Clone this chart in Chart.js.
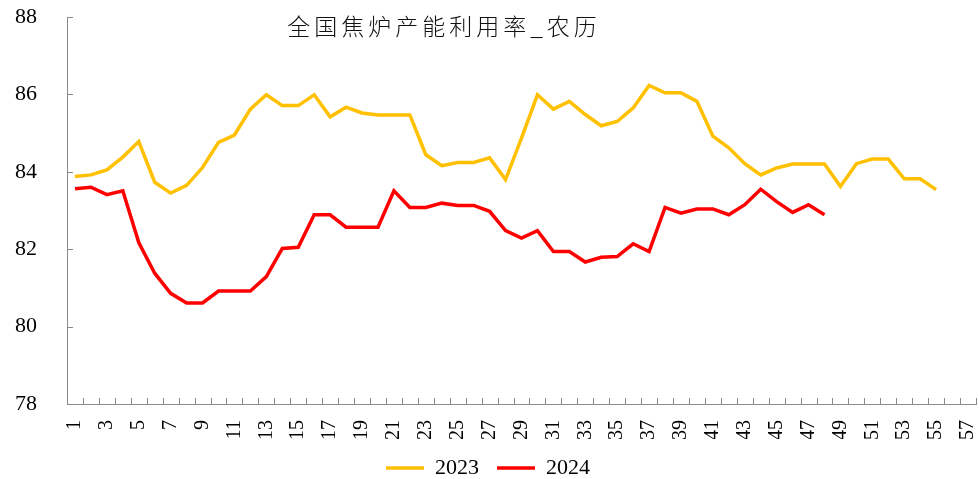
<!DOCTYPE html>
<html>
<head>
<meta charset="utf-8">
<style>
  html, body { margin: 0; padding: 0; background: #fff; }
  #wrap { width: 979px; height: 479px; position: relative; }
</style>
<script src="https://cdn.jsdelivr.net/npm/chart.js@4"></script>
</head>
<body>
<div id="wrap"><canvas id="chart" width="979" height="479"></canvas></div>
<script>
(function () {
  'use strict';

  var TITLE = '全国焦炉产能利用率_农历';

  // lunar-calendar week numbers
  var weeks = [
    '1', '2', '3', '4', '5', '6', '7', '8', '9', '10',
    '11', '12', '13', '14', '15', '16', '17', '18', '19', '20',
    '21', '22', '23', '24', '25', '26', '27', '28', '29', '30',
    '31', '32', '33', '34', '35', '36', '37', '38', '39', '40',
    '41', '42', '43', '44', '45', '46', '47', '48', '49', '50',
    '51', '52', '53', '54', '55', '56', '57'
  ];

  var util2023 = [
    83.88, 83.92, 84.05, 84.38, 84.78, 83.73, 83.45, 83.65, 84.11, 84.76,
    84.95, 85.62, 85.99, 85.71, 85.71, 85.99, 85.42, 85.67, 85.52, 85.47,
    85.47, 85.47, 84.44, 84.16, 84.24, 84.24, 84.36, 83.80, 84.87, 85.99,
    85.62, 85.82, 85.48, 85.19, 85.30, 85.65, 86.23, 86.04, 86.04, 85.82,
    84.92, 84.62, 84.21, 83.92, 84.10, 84.20, 84.20, 84.20, 83.62, 84.21,
    84.33, 84.33, 83.82, 83.82, 83.54
  ];

  var util2024 = [
    83.56, 83.60, 83.41, 83.51, 82.17, 81.38, 80.86, 80.61, 80.61, 80.92,
    80.92, 80.92, 81.29, 82.02, 82.05, 82.89, 82.89, 82.57, 82.57, 82.57,
    83.51, 83.08, 83.08, 83.19, 83.13, 83.13, 82.98, 82.48, 82.29, 82.48,
    81.94, 81.94, 81.67, 81.79, 81.81, 82.14, 81.94, 83.08, 82.93, 83.04,
    83.04, 82.89, 83.15, 83.55, 83.23, 82.95, 83.15, 82.89
  ];

  var yMin = 78, yMax = 88, yStep = 2;

  var AXIS = '#898989';
  var SERIF = '"Liberation Serif", "Times New Roman", serif';

  // Excel style: short tick marks pointing into the plot area
  var innerTicks = {
    id: 'innerTicks',
    afterDraw: function (chart) {
      var ctx = chart.ctx;
      var a = chart.chartArea;
      var n = weeks.length;
      var step = (a.right - a.left) / n;
      ctx.save();
      ctx.strokeStyle = AXIS;
      ctx.lineWidth = 1;
      ctx.beginPath();
      for (var i = 0; i <= n; i++) {
        var x = Math.round(a.left + i * step) + 0.5;
        ctx.moveTo(x, a.bottom);
        ctx.lineTo(x, a.bottom - 6);
      }
      var ys = chart.scales.y;
      ys.ticks.forEach(function (t) {
        var y = Math.round(ys.getPixelForValue(t.value)) + 0.5;
        ctx.moveTo(a.left, y);
        ctx.lineTo(a.left + 6, y);
      });
      ctx.stroke();
      ctx.restore();
    }
  };

  // title sits inside the plot area
  var overlayTitle = {
    id: 'overlayTitle',
    afterDraw: function (chart) {
      var ctx = chart.ctx;
      ctx.save();
      ctx.font = '300 23px "Noto Sans CJK SC", sans-serif';
      ctx.letterSpacing = '4px';
      ctx.fillStyle = '#111';
      ctx.textAlign = 'center';
      ctx.textBaseline = 'middle';
      ctx.fillText(TITLE, 444, 26);
      ctx.restore();
    }
  };

  // invisible tick marks only push the labels away from the axis;
  // ticks.padding would also be added to the plot's outer margins
  var hiddenTicks = function (len) {
    return {
      display: true,
      drawOnChartArea: false,
      drawTicks: true,
      tickLength: len,
      tickColor: 'rgba(0,0,0,0)'
    };
  };

  new Chart(document.getElementById('chart'), {
    type: 'line',
    data: {
      labels: weeks,
      datasets: [{
        label: '2023',
        data: util2023,
        borderColor: '#FFC000',
        backgroundColor: '#FFC000',
        borderWidth: 3.5,
        pointRadius: 0,
        tension: 0
      }, {
        label: '2024',
        data: util2024,
        borderColor: '#FF0000',
        backgroundColor: '#FF0000',
        borderWidth: 3.5,
        pointRadius: 0,
        tension: 0
      }]
    },
    options: {
      responsive: false,
      animation: false,
      layout: { padding: { left: 0, right: 3, top: 17, bottom: -10 } },
      plugins: {
        tooltip: { enabled: false },
        title: { display: false },
        legend: {
          position: 'bottom',
          labels: {
            usePointStyle: true,
            pointStyle: 'line',
            pointStyleWidth: 38,
            padding: 18,
            color: '#000',
            font: { family: SERIF, size: 22 }
          }
        }
      },
      scales: {
        x: {
          type: 'category',
          offset: true,
          grid: hiddenTicks(14),
          border: { display: true, color: AXIS, width: 1 },
          ticks: {
            autoSkip: false,
            minRotation: 90,
            maxRotation: 90,
            padding: 2,
            color: '#000',
            font: { family: SERIF, size: 20, lineHeight: 1 },
            callback: function (v, i) {
              return i % 2 === 0 ? weeks[i] : '';
            }
          },
          afterFit: function (s) {
            // the last label may hang past the plot edge
            s.height = 35;
            s.paddingLeft = 0;
            s.paddingRight = 0;
          }
        },
        y: {
          min: yMin,
          max: yMax,
          grid: hiddenTicks(28),
          border: { display: true, color: AXIS, width: 1 },
          ticks: {
            stepSize: yStep,
            padding: 2,
            color: '#000',
            font: { family: SERIF, size: 22 }
          },
          afterFit: function (s) { s.width = 67; }
        }
      }
    },
    plugins: [innerTicks, overlayTitle]
  });
}());
</script>
</body>
</html>
